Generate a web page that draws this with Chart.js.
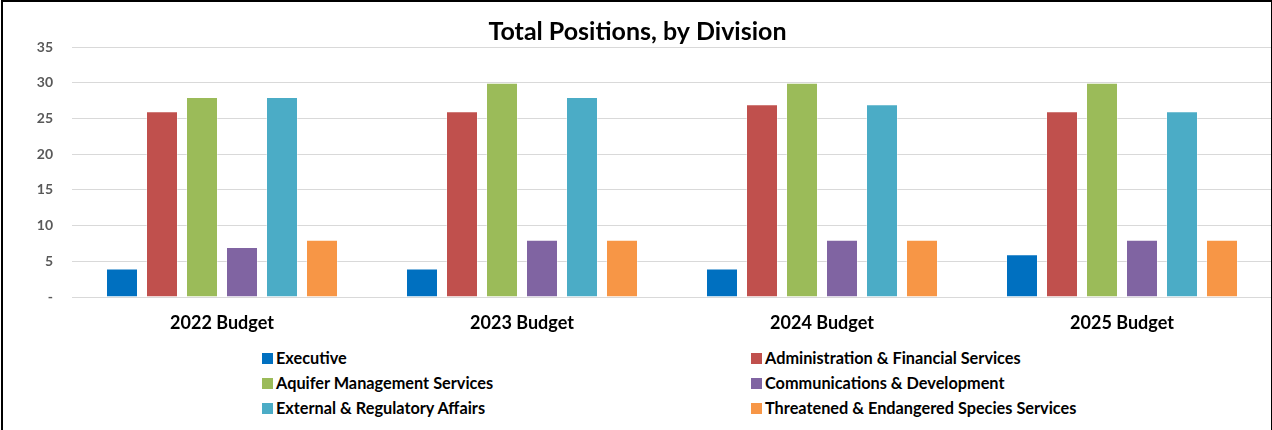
<!DOCTYPE html>
<html>
<head>
<meta charset="utf-8">
<script src="https://cdn.jsdelivr.net/npm/chart.js@4/dist/chart.umd.min.js"></script>
<style>
  body { margin: 0; background: #fff; font-family: Lato, "Open Sans", sans-serif; }
  #marco { position: absolute; left: 1px; top: 0; width: 1268px; height: 440px; border: 2px solid #000; background: #fff; overflow: hidden; }
  #cont { position: absolute; left: 0; top: 0; width: 1272px; height: 340px; }
  #leyenda { position: absolute; left: 0; top: 346px; width: 1268px; }
  .item { position: absolute; font-weight: bold; font-size: 16.3px; color: #000; white-space: nowrap; line-height: 20px; }
  .caja { display: inline-block; width: 11px; height: 11px; margin-right: 3px; vertical-align: 0px; }
</style>
</head>
<body>
<div id="marco">
  <div id="cont"><canvas id="grafica"></canvas></div>
  <div id="leyenda"></div>
</div>
<script>
// datos de posiciones por division
var anios = ["2022 Budget", "2023 Budget", "2024 Budget", "2025 Budget"];
var divisiones = ["Executive", "Administration & Financial Services", "Aquifer Management Services",
  "Communications & Development", "External & Regulatory Affairs", "Threatened & Endangered Species Services"];
var colores = ["#0070c0", "#c0504d", "#9bbb59", "#8064a2", "#4bacc6", "#f79646"];

var executive = [4, 4, 4, 6];
var administracion = [26, 26, 27, 26];
var acuifero = [28, 30, 30, 30];
var comunicaciones = [7, 8, 8, 8];
var externos = [28, 28, 27, 26];
var especies = [8, 8, 8, 8];

var valores = [executive, administracion, acuifero, comunicaciones, externos, especies];
var ticksY = [0, 5, 10, 15, 20, 25, 30, 35];

var datasets = [];
for (var i = 0; i < divisiones.length; i++) {
  datasets.push({
    label: divisiones[i],
    data: valores[i],
    backgroundColor: colores[i],
    borderColor: 'rgba(255,255,255,0.35)',
    borderWidth: 1,
    barPercentage: 0.8,
    categoryPercentage: 0.8
  });
}

var ctx = document.getElementById('grafica');
var grafica = new Chart(ctx, {
  type: 'bar',
  data: { labels: anios, datasets: datasets },
  options: {
    responsive: true,
    maintainAspectRatio: false,
    animation: false,
    layout: { padding: { left: 0, right: 3, top: 0, bottom: 0 } },
    plugins: {
      legend: { display: false },
      tooltip: { enabled: false },
      title: {
        display: true,
        text: 'Total Positions, by Division',
        color: '#000',
        font: { family: 'Lato', size: 25, weight: 'bold', lineHeight: 1.2 },
        padding: { top: 15, bottom: 0 }
      }
    },
    scales: {
      x: {
        grid: { display: false },
        border: { display: false },
        afterFit: function(eje) { eje.height = 45; },
        ticks: { color: '#000', font: { family: 'Lato', size: 18, weight: 'bold' }, padding: 7 }
      },
      y: {
        min: 0,
        max: 35,
        afterFit: function(eje) { eje.width = 69; },
        afterBuildTicks: function(eje) { eje.ticks = ticksY.map(function(v) { return { value: v }; }); },
        grid: { color: '#d9d9d9', lineWidth: 1, drawTicks: false },
        border: { display: false },
        ticks: {
          color: '#595959',
          padding: 19,
          font: { family: 'Lato', size: 14, weight: 'bold' },
          callback: function(v) { return v === 0 ? '-' : v; }
        }
      }
    }
  }
});

// leyenda en dos columnas
var leyenda = document.getElementById('leyenda');
var columnasX = [259, 748];
for (var j = 0; j < divisiones.length; j++) {
  var d = document.createElement('div');
  d.className = 'item';
  d.style.left = columnasX[j % 2] + 'px';
  d.style.top = (Math.floor(j / 2) * 25) + 'px';
  d.innerHTML = '<span class="caja" style="background:' + colores[j] + '"></span>';
  d.appendChild(document.createTextNode(divisiones[j]));
  leyenda.appendChild(d);
}
</script>
</body>
</html>
